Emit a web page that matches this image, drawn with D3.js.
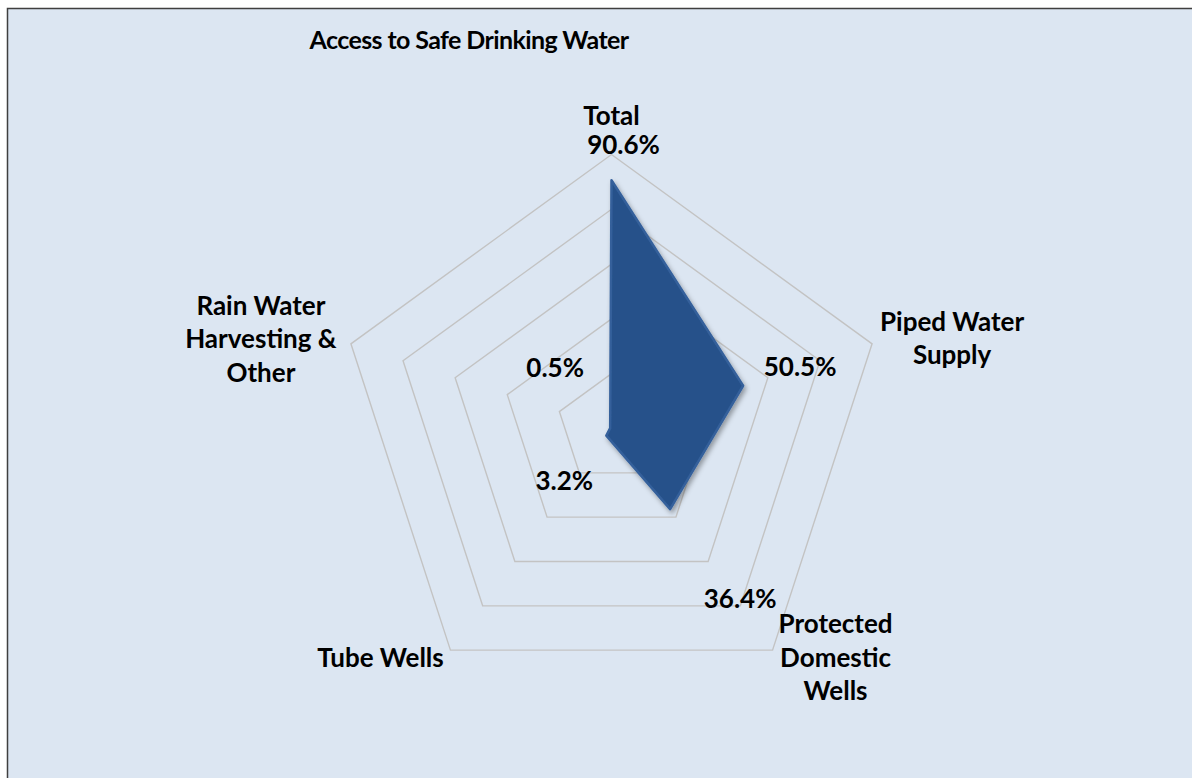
<!DOCTYPE html>
<html>
<head>
<meta charset="utf-8">
<script src="https://cdn.jsdelivr.net/npm/d3@7"></script>
<style>
  body { margin: 0; background: #ffffff; }
  text { font-family: Lato, "Noto Sans", sans-serif; font-weight: bold; fill: #000; }
</style>
</head>
<body>
<script>
// Data
const categories = ["Total", "Piped Water Supply", "Protected Domestic Wells", "Tube Wells", "Rain Water Harvesting & Other"];
const categoryLines = [["Total"], ["Piped Water", "Supply"], ["Protected", "Domestic", "Wells"], ["Tube Wells"], ["Rain Water", "Harvesting &", "Other"]];
const values = [90.6, 50.5, 36.4, 3.2, 0.5];
const ringTicks = [20, 40, 60, 80, 100];

// Layout (label nudges, as placed in the original)
const catOffsets = [[0, -30], [80, -13], [63, -17], [-70, 17], [-90, -29]];
const valOffsets = [[12, -26], [57, -10], [70, 99], [-42, 54], [-55, -51]];

const width = 1192, height = 778;
const cx = 611.5, cy = 428.5, R = 274;

const svg = d3.select("body").append("svg")
    .attr("width", width)
    .attr("height", height);

// Chart area
svg.append("rect")
    .attr("x", 7.5).attr("y", 8.5)
    .attr("width", width).attr("height", height)
    .attr("fill", "#dce6f2")
    .attr("stroke", "#3f3f3f")
    .attr("stroke-width", 1.5);

const defs = svg.append("defs");
const shadow = defs.append("filter").attr("id", "shadow")
    .attr("x", "-20%").attr("y", "-20%").attr("width", "140%").attr("height", "140%");
shadow.append("feDropShadow")
    .attr("dx", 2).attr("dy", 3).attr("stdDeviation", 2.5)
    .attr("flood-color", "#000").attr("flood-opacity", 0.35);

const r = d3.scaleLinear().domain([0, 100]).range([0, R]);
const angle = d3.scalePoint().domain(categories).range([0, 2 * Math.PI * (categories.length - 1) / categories.length]);

function pt(cat, v) {
    const a = angle(cat);
    return [cx + r(v) * Math.sin(a), cy - r(v) * Math.cos(a)];
}

// Rings
svg.append("g").selectAll("polygon")
    .data(ringTicks)
    .enter().append("polygon")
    .attr("points", t => categories.map(c => pt(c, t).join(",")).join(" "))
    .attr("fill", "none")
    .attr("stroke", "#c3c3c3")
    .attr("stroke-width", 1.4);

// Series
const line = d3.lineRadial()
    .angle((d, i) => angle(categories[i]))
    .radius(d => r(d))
    .curve(d3.curveLinearClosed);

svg.append("path")
    .datum(values)
    .attr("transform", `translate(${cx},${cy})`)
    .attr("d", line)
    .attr("fill", "#26518a")
    .attr("stroke", "#34609b")
    .attr("stroke-width", 2.5)
    .attr("stroke-linejoin", "round")
    .attr("filter", "url(#shadow)");

// Category labels
const fs = 26;
categories.forEach((c, i) => {
    const [x, y] = pt(c, 100);
    const t = svg.append("text")
        .attr("text-anchor", "middle")
        .attr("font-size", fs)
        .attr("x", x + catOffsets[i][0])
        .attr("y", y + catOffsets[i][1]);
    categoryLines[i].forEach((s, j) => {
        t.append("tspan")
            .attr("x", x + catOffsets[i][0])
            .attr("dy", j === 0 ? 0 : 33.5)
            .text(s);
    });
});

// Value labels
svg.append("g").selectAll("text")
    .data(values)
    .enter().append("text")
    .attr("text-anchor", "middle")
    .attr("font-size", fs)
    .attr("x", (d, i) => pt(categories[i], d)[0] + valOffsets[i][0])
    .attr("y", (d, i) => pt(categories[i], d)[1] + valOffsets[i][1])
    .text(d => d.toFixed(1) + "%");

// Title
svg.append("text")
    .attr("x", 469).attr("y", 49)
    .attr("text-anchor", "middle")
    .attr("font-size", 25)
    .attr("letter-spacing", -0.6)
    .text("Access to Safe Drinking Water");
</script>
</body>
</html>
